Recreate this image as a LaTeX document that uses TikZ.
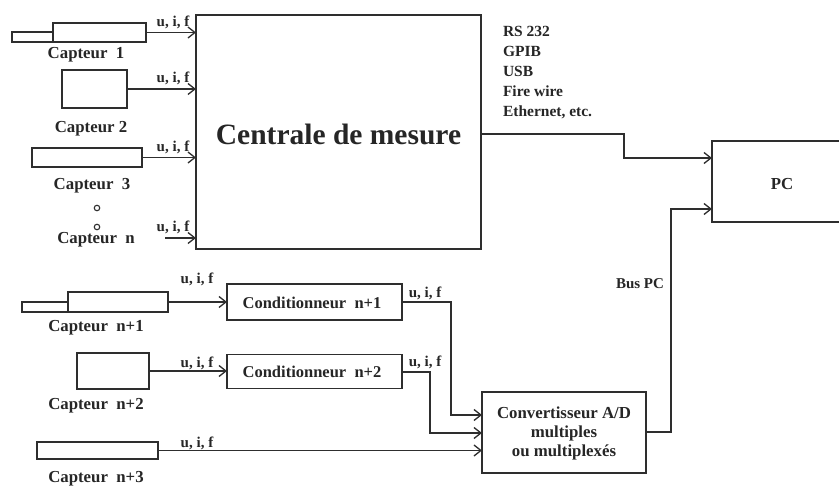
\documentclass[tikz,border=0pt]{standalone}
\usepackage{fontspec}
\setmainfont{Liberation Serif}
\usetikzlibrary{arrows.meta}
\definecolor{linec}{gray}{0.18}
\definecolor{txtc}{gray}{0.15}
\begin{document}
\begin{tikzpicture}[x=1pt,y=-1pt,
  line width=1.3pt,
  every node/.style={inner sep=0pt, outer sep=0pt},
  box/.style={draw=linec, fill=white},
  lbl/.style={anchor=base, font=\bfseries\fontsize{16.8}{19}\selectfont, text=txtc},
  cond/.style={anchor=base, font=\bfseries\fontsize{16.5}{19}\selectfont, text=txtc},
  sig/.style={anchor=base, font=\bfseries\fontsize{15}{17}\selectfont, text=txtc},
  iface/.style={anchor=base west, font=\bfseries\fontsize{15.5}{17}\selectfont, text=txtc},
  arr/.style={draw=linec, -{Straight Barb[length=7pt,width=11pt,line width=1.3pt]}},
  wire/.style={draw=linec},
  dot/.style={circle, draw=linec, line width=1.1pt, minimum size=5.5pt}]
\useasboundingbox (0,0) rectangle (839,486);
\fill[white] (0,0) rectangle (839,486);

% Centrale de mesure
\node[box, minimum width=285pt, minimum height=234pt] (cm) at (338.5,132) {};
\node[anchor=base, font=\bfseries\fontsize{29.5}{32}\selectfont, text=txtc] (cmt) at (338.5,145) {Centrale de mesure};

% PC
\begin{scope}
\clip (0,0) rectangle (839,486);
\node[box, minimum width=140pt, minimum height=81pt] (pc) at (782,181.5) {};
\end{scope}
\node[lbl] (pct) at (782,190) {PC};

% Capteur 1
\node[box, minimum width=41pt, minimum height=10pt] (c1a) at (32.5,37) {};
\node[box, minimum width=93pt, minimum height=19pt] (c1) at (99.5,32.5) {};
\node[lbl] (c1t) at (86,59) {Capteur~~1};
% Capteur 2
\node[box, minimum width=65pt, minimum height=38pt] (c2) at (94.5,89) {};
\node[lbl] (c2t) at (91,133) {Capteur 2};
% Capteur 3
\node[box, minimum width=110pt, minimum height=19pt] (c3) at (87,157.5) {};
\node[lbl] (c3t) at (92,190) {Capteur~~3};
% dots and Capteur n
\node[dot] (d1) at (97,208) {};
\node[dot] (d2) at (97,227) {};
\node[lbl] (cnt) at (96,244) {Capteur~~n};
\coordinate (cn) at (165,238);

% sensor arrows to centrale
\draw[arr] (c1.east) -- (c1.east -| cm.west);
\draw[arr] (c2.east) -- (c2.east -| cm.west);
\draw[arr] (c3.east) -- (c3.east -| cm.west);
\draw[arr] (cn) -- (cn -| cm.west);
\node[sig] (s1) at (173,27) {u, i, f};
\node[sig] (s2) at (173,83) {u, i, f};
\node[sig] (s3) at (173,152) {u, i, f};
\node[sig] (s4) at (173,232) {u, i, f};

% RS 232 etc
\node[iface] (rs) at (503,37) {RS 232};
\node[iface] (gp) at (503,57) {GPIB};
\node[iface] (usb) at (503,77) {USB};
\node[iface] (fw) at (503,97) {Fire wire};
\node[iface] (eth) at (503,117) {Ethernet, etc.};

% centrale to PC
\coordinate (k1) at (624,134);
\draw[arr] (cm.east |- k1) -- (k1) |- (pc.west |- 0,158);

% Capteur n+1
\node[box, minimum width=46pt, minimum height=10pt] (c5a) at (45,307) {};
\node[box, minimum width=100pt, minimum height=20pt] (c5) at (118,302) {};
\node[lbl] (c5t) at (96,332) {Capteur~~n+1};
% Capteur n+2
\node[box, minimum width=72pt, minimum height=36pt] (c6) at (113,371) {};
\node[lbl] (c6t) at (96,410) {Capteur~~n+2};
% Capteur n+3
\node[box, minimum width=121pt, minimum height=17pt] (c7) at (97.5,450.5) {};
\node[lbl] (c7t) at (96,483) {Capteur~~n+3};

% Conditionneurs
\node[box, minimum width=175pt, minimum height=36pt] (k5) at (314.5,302) {};
\node[cond] (k5t) at (312,309) {Conditionneur~~n+1};
\node[box, minimum width=175pt, minimum height=34pt] (k6) at (314.5,371.5) {};
\node[cond] (k6t) at (312,378) {Conditionneur~~n+2};

% Convertisseur
\node[box, minimum width=164pt, minimum height=81pt] (cv) at (564,432.5) {};
\node[lbl] (cv1) at (564,419) {Convertisseur A/D};
\node[lbl] (cv2) at (564,438) {multiples};
\node[lbl] (cv3) at (564,457) {ou multiplexés};

% arrows lower
\draw[arr] (c5.east) -- (k5.west);
\draw[arr] (c6.east) -- (c6.east -| k6.west);
\draw[arr] (c7.east) -- (c7.east -| cv.west);
\node[sig] (s5) at (197,284) {u, i, f};
\node[sig] (s6) at (197,368) {u, i, f};
\node[sig] (s7) at (197,448) {u, i, f};

\coordinate (b5) at (451,302);
\coordinate (b6) at (430,372);
\draw[arr] (k5.east) -- (b5) |- (cv.west |- 0,415);
\draw[arr] (k6.east |- b6) -- (b6) |- (cv.west |- 0,433);
\node[sig] (s8) at (425,298) {u, i, f};
\node[sig] (s9) at (425,367) {u, i, f};

% Convertisseur to PC
\coordinate (b7) at (671,432);
\draw[arr] (cv.east |- b7) -- (b7) |- (pc.west |- 0,209);
\node[anchor=base, font=\bfseries\fontsize{15}{17}\selectfont, text=txtc] (bpc) at (640,289) {Bus PC};
\end{tikzpicture}
\end{document}
